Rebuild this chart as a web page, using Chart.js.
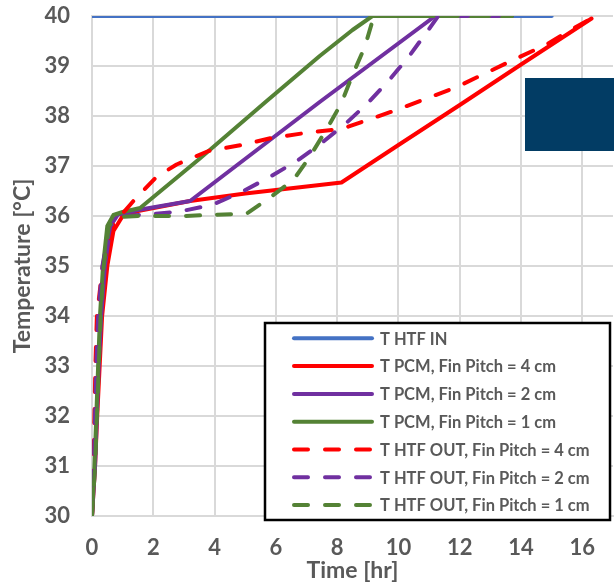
<!DOCTYPE html>
<html>
<head>
<meta charset="utf-8">
<script src="https://cdn.jsdelivr.net/npm/chart.js@4.4.1/dist/chart.umd.min.js"></script>
<style>
  html, body { margin: 0; padding: 0; background: #fff; }
  canvas { display: block; }
</style>
</head>
<body>
<canvas id="chart" width="614" height="584"></canvas>
<script>
// series (time in hr, temperature in °C)
var htfInTime = [0, 15];
var htfInTemp = [40, 40];

var pcm4Time = [0, 0.1, 0.17, 0.25, 0.33, 0.5, 0.7, 1.0, 1.5, 3.2, 5.0, 7.43, 8.14, 10, 12, 14, 16.3];
var pcm4Temp = [30, 31, 32, 33, 34, 35, 35.7, 36.0, 36.1, 36.3, 36.45, 36.62, 36.67, 37.42, 38.22, 39.03, 39.95];

var pcm2Time = [0, 0.1, 0.16, 0.22, 0.3, 0.42, 0.6, 0.85, 1.5, 3.2, 7.43, 11.2, 13.7];
var pcm2Temp = [30, 31, 32, 33, 34, 35, 35.8, 36.03, 36.12, 36.3, 38.28, 40, 40];

var pcm1Time = [0, 0.08, 0.14, 0.2, 0.26, 0.36, 0.5, 0.7, 1.0, 1.57, 3.52, 5.7, 7.43, 8.5, 9.15, 13.7];
var pcm1Temp = [30, 31, 32, 33, 34, 35, 35.8, 36.02, 36.08, 36.16, 37.15, 38.3, 39.2, 39.72, 40, 40];

var out4Time = [0, 0.05, 0.08, 0.11, 0.16, 0.35, 0.7, 1.0, 1.35, 2.1, 2.76, 3.8, 4.88, 5.86, 6.95, 8.14, 9.93, 11.9, 13.74, 14.8, 15.5, 16.3];
var out4Temp = [30, 31, 32, 33, 34, 35, 35.85, 36.05, 36.3, 36.78, 37.03, 37.3, 37.42, 37.56, 37.66, 37.74, 38.12, 38.58, 39.12, 39.42, 39.68, 39.95];

var out2Time = [0, 0.06, 0.1, 0.14, 0.2, 0.34, 0.6, 0.9, 1.8, 2.87, 3.95, 4.88, 5.8, 6.68, 7.33, 8.3, 9.0, 9.7, 10.35, 10.95, 11.3, 13.7];
var out2Temp = [30, 31, 32, 33, 34, 35, 35.8, 36.0, 36.03, 36.09, 36.23, 36.48, 36.78, 37.1, 37.38, 37.86, 38.26, 38.72, 39.2, 39.7, 40, 40];

var out1Time = [0, 0.1, 0.16, 0.22, 0.28, 0.38, 0.55, 0.8, 1.5, 3.0, 5.05, 5.7, 6.57, 7.1, 7.7, 8.14, 8.5, 8.9, 9.2, 13.7];
var out1Temp = [30, 31, 32, 33, 34, 35, 35.8, 35.98, 36.0, 36.0, 36.05, 36.32, 36.72, 37.18, 37.78, 38.26, 38.82, 39.38, 40, 40];

var seriesNames = [
    "T HTF IN",
    "T PCM, Fin Pitch = 4 cm",
    "T PCM, Fin Pitch = 2 cm",
    "T PCM, Fin Pitch = 1 cm",
    "T HTF OUT, Fin Pitch = 4 cm",
    "T HTF OUT, Fin Pitch = 2 cm",
    "T HTF OUT, Fin Pitch = 1 cm"
];
var xTicks = [0, 2, 4, 6, 8, 10, 12, 14, 16];
var yTicks = [30, 31, 32, 33, 34, 35, 36, 37, 38, 39, 40];

var BLUE = "#4472c4", RED = "#ff0000", PURPLE = "#7030a0", GREEN = "#548235";
var DASH = [14, 17];
var TEXT = "#595959";
var FONT = "Lato, 'Open Sans', sans-serif";

function pts(xs, ys) {
    return xs.map(function(x, i){ return {x: x, y: ys[i]}; });
}

function line(label, xs, ys, color, dashed, order) {
    return {
        label: label,
        data: pts(xs, ys),
        borderColor: color,
        backgroundColor: color,
        borderWidth: 4,
        borderDash: dashed ? DASH : [],
        borderCapStyle: "round",
        borderJoinStyle: "round",
        pointRadius: 0,
        tension: 0,
        clip: 0,
        order: order
    };
}

var datasets = [
    line(seriesNames[0], htfInTime, htfInTemp, BLUE, false, 7),
    line(seriesNames[1], pcm4Time, pcm4Temp, RED, false, 6),
    line(seriesNames[2], pcm2Time, pcm2Temp, PURPLE, false, 5),
    line(seriesNames[3], pcm1Time, pcm1Temp, GREEN, false, 4),
    line(seriesNames[4], out4Time, out4Temp, RED, true, 3),
    line(seriesNames[5], out2Time, out2Temp, PURPLE, true, 2),
    line(seriesNames[6], out1Time, out1Temp, GREEN, true, 1)
];

// legend box + the dark block sitting over the plot
var overlay = {
    id: "overlay",
    afterDraw: function(chart) {
        var ctx = chart.ctx;
        ctx.save();
        ctx.fillStyle = "#023c64";
        ctx.fillRect(525, 78, 89, 73);

        ctx.fillStyle = "#fff";
        ctx.fillRect(265, 323, 345, 197);
        ctx.lineWidth = 2.5;
        ctx.strokeStyle = "#000";
        ctx.strokeRect(265, 323, 345, 197);

        ctx.font = "bold 16.5px " + FONT;
        ctx.textBaseline = "middle";
        ctx.textAlign = "left";
        datasets.forEach(function(ds, i){
            var y = 338.3 + i * 27.8;
            ctx.beginPath();
            ctx.lineWidth = 4;
            ctx.lineCap = "round";
            ctx.strokeStyle = ds.borderColor;
            ctx.setLineDash(ds.borderDash);
            ctx.moveTo(294, y);
            ctx.lineTo(372, y);
            ctx.stroke();
            ctx.setLineDash([]);
            ctx.fillStyle = TEXT;
            ctx.fillText(ds.label, 380, y + 1);
        });
        ctx.restore();
    }
};

var ctx = document.getElementById("chart");
var chart = new Chart(ctx, {
    type: "line",
    data: { datasets: datasets },
    plugins: [overlay],
    options: {
        responsive: false,
        animation: false,
        devicePixelRatio: 1,
        layout: { padding: { top: 16, right: 1, left: 0, bottom: 0 } },
        plugins: {
            legend: { display: false },
            tooltip: { enabled: false }
        },
        scales: {
            x: {
                type: "linear",
                min: 0,
                max: 17,
                afterBuildTicks: function(scale) {
                    scale.ticks = xTicks.map(function(v){ return {value: v}; });
                },
                afterFit: function(scale) {
                    scale.height = 68;
                    scale.paddingLeft = 0;
                    scale.paddingRight = 0;
                },
                grid: { color: "#d9d9d9", lineWidth: 2, drawTicks: false },
                border: { color: "#d9d9d9", width: 2 },
                ticks: {
                    padding: 19,
                    color: TEXT,
                    font: { family: FONT, size: 22, weight: "bold" }
                },
                title: {
                    display: true,
                    text: "Time [hr]",
                    color: TEXT,
                    padding: { top: 0, bottom: 0 },
                    font: { family: FONT, size: 23, weight: "bold" }
                }
            },
            y: {
                min: 30,
                max: 40,
                afterBuildTicks: function(scale) {
                    scale.ticks = yTicks.map(function(v){ return {value: v}; });
                },
                afterFit: function(scale) {
                    scale.width = 92;
                    scale.paddingTop = 0;
                    scale.paddingBottom = 0;
                },
                grid: { color: "#d9d9d9", lineWidth: 2, drawTicks: false },
                border: { color: "#d9d9d9", width: 2 },
                ticks: {
                    padding: 22,
                    color: TEXT,
                    font: { family: FONT, size: 22, weight: "bold" }
                },
                title: {
                    display: true,
                    text: "Temperature [°C]",
                    color: TEXT,
                    padding: { top: 9, bottom: 0 },
                    font: { family: FONT, size: 23, weight: "bold" }
                }
            }
        }
    }
});
</script>
</body>
</html>
